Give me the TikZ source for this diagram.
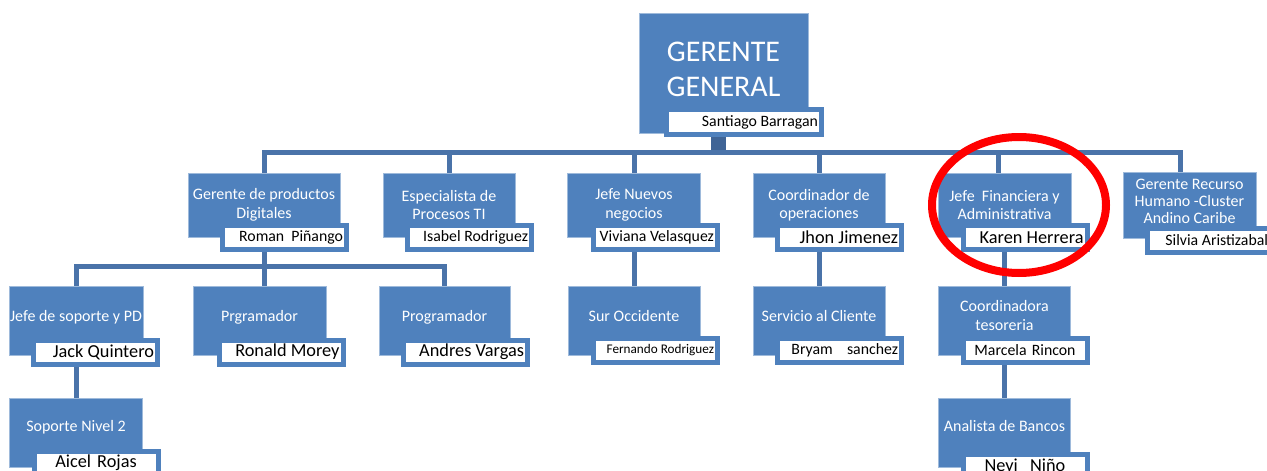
\documentclass[tikz,border=0pt]{standalone}
\usepackage{fontspec}
\setmainfont{Carlito}
\usepackage{tikz}
\usetikzlibrary{backgrounds}

\definecolor{boxblue}{HTML}{4F81BD}
\definecolor{lineblue}{HTML}{4A73A9}
\definecolor{stubblue}{HTML}{3F6496}

\tikzset{
  role/.style={fill=boxblue, draw=boxblue!55!white, line width=0.6pt, text=white,
    align=center, inner sep=1pt, font=\fontsize{16}{18.5}\selectfont},
  oneline/.style={text height=11pt, text depth=#1},
  namebox/.style={fill=white, draw=boxblue, line width=5pt, minimum width=124pt,
    minimum height=24pt, inner xsep=3.5pt, inner ysep=0pt, text width=117pt,
    align=flush right, text=black, font=\fontsize{15.8}{17}\selectfont},
  bigname/.style={font=\fontsize{18.3}{20}\selectfont},
  conn/.style={draw=lineblue, line width=5pt},
  stub/.style={draw=stubblue, line width=15pt},
  redring/.style={draw=red, line width=8pt}
}

\begin{document}
\begin{tikzpicture}[x=1pt, y=-1pt]
\useasboundingbox (0,0) rectangle (1267,471);
\clip (0,0) rectangle (1267,471);

% nivel 1 - gerente general
\node[role, minimum width=169pt, minimum height=120pt, font=\fontsize{30}{35}\selectfont, text depth=8pt] (gg) at (723.5,73) {GERENTE\\GENERAL};
\node[namebox, minimum width=155pt, minimum height=25pt, text width=148pt] (gg-n) at (744,122) {Santiago Barragan};

% nivel 2
\node[role, minimum width=152pt, minimum height=64pt] (gpd) at (264,205) {Gerente de productos\\Digitales};
\node[namebox] (gpd-n) at (284.5,237.5) {Roman~~Piñango};
\node[role, minimum width=132pt, minimum height=64pt] (esp) at (449,205) {Especialista de\\Procesos TI};
\node[namebox] (esp-n) at (469.5,237.5) {Isabel Rodriguez};
\node[role, minimum width=133pt, minimum height=64pt] (jnn) at (634,205) {Jefe Nuevos\\negocios};
\node[namebox] (jnn-n) at (655.5,237.5) {Viviana Velasquez};
\node[role, minimum width=132pt, minimum height=64pt] (cop) at (819,205) {Coordinador de\\operaciones};
\node[namebox, bigname] (cop-n) at (839.5,237.5) {Jhon Jimenez};
\node[role, minimum width=133pt, minimum height=64pt] (jfa) at (1004.5,205) {Jefe~~Financiera y\\Administrativa};
\node[namebox, bigname] (jfa-n) at (1025,237.5) {Karen Herrera};
\node[role, minimum width=133pt, minimum height=66pt, font=\fontsize{16}{17}\selectfont, text depth=8pt] (grh) at (1189.5,205) {Gerente Recurso\\Humano -Cluster\\Andino Caribe};
\node[namebox] (grh-n) at (1209.5,240) {Silvia Aristizabal};

% nivel 3
\node[role, minimum width=133pt, minimum height=69pt, oneline=10pt] (jsp) at (76,320.5) {Jefe de soporte y PD};
\node[namebox, bigname] (jsp-n) at (95.5,352) {Jack Quintero};
\node[role, minimum width=133pt, minimum height=69pt, oneline=10pt] (prg1) at (259.5,320.5) {Prgramador};
\node[namebox, bigname] (prg1-n) at (281,352) {Ronald Morey};
\node[role, minimum width=131pt, minimum height=69pt, oneline=10pt] (prg2) at (444.5,320.5) {Programador};
\node[namebox, bigname] (prg2-n) at (465.5,352) {Andres Vargas};
\node[role, minimum width=132pt, minimum height=69pt, oneline=10pt] (suro) at (634,320.5) {Sur Occidente};
\node[namebox, font=\fontsize{13.2}{15}\selectfont] (suro-n) at (655.5,350) {Fernando Rodriguez};
\node[role, minimum width=132pt, minimum height=69pt, oneline=10pt] (serv) at (819,320.5) {Servicio al Cliente};
\node[namebox] (serv-n) at (839.5,350) {Bryam~~~~sanchez};
\node[role, minimum width=132pt, minimum height=69pt, text depth=10pt] (ctes) at (1004.5,320.5) {Coordinadora\\tesoreria};
\node[namebox, align=center] (ctes-n) at (1025,350) {Marcela Rincon};

% nivel 4
\node[role, minimum width=133pt, minimum height=69pt, oneline=13pt] (sop2) at (76,432.5) {Soporte Nivel 2};
\node[namebox, bigname, align=center] (sop2-n) at (96,463) {Aicel Rojas};
\node[role, minimum width=132pt, minimum height=69pt, oneline=13pt] (abanc) at (1004.5,432.5) {Analista de Bancos};
\node[namebox, bigname, align=center] (abanc-n) at (1025,466.5) {Neyi~~Niño};

% lineas
\begin{scope}[on background layer]
\draw[stub] ([xshift=-5pt]gg.south) -- ++(0,19.5);
\draw[conn] (gpd.north) -- ++(0,-20.5) -| ([xshift=-9.5pt]grh.north);
\foreach \n in {esp,jnn,cop}
  \draw[conn] (\n.north) -- ++(0,-20.5);
\draw[conn] ([xshift=-6.5pt]jfa.north) -- ++(0,-20.5);
\draw[conn] (gpd) -- (gpd |- jsp.north);
\draw[conn] (jsp.north) -- ++(0,-19.5) -| (prg2.north);
\draw[conn] (jsp) -- (sop2);
\draw[conn] (jnn) -- (suro);
\draw[conn] (cop) -- (serv);
\draw[conn] (jfa) -- (ctes);
\draw[conn] (ctes) -- (abanc);
\end{scope}

% marca roja
\draw[redring] (1019,205) ellipse [x radius=87pt, y radius=68pt];
\end{tikzpicture}
\end{document}
